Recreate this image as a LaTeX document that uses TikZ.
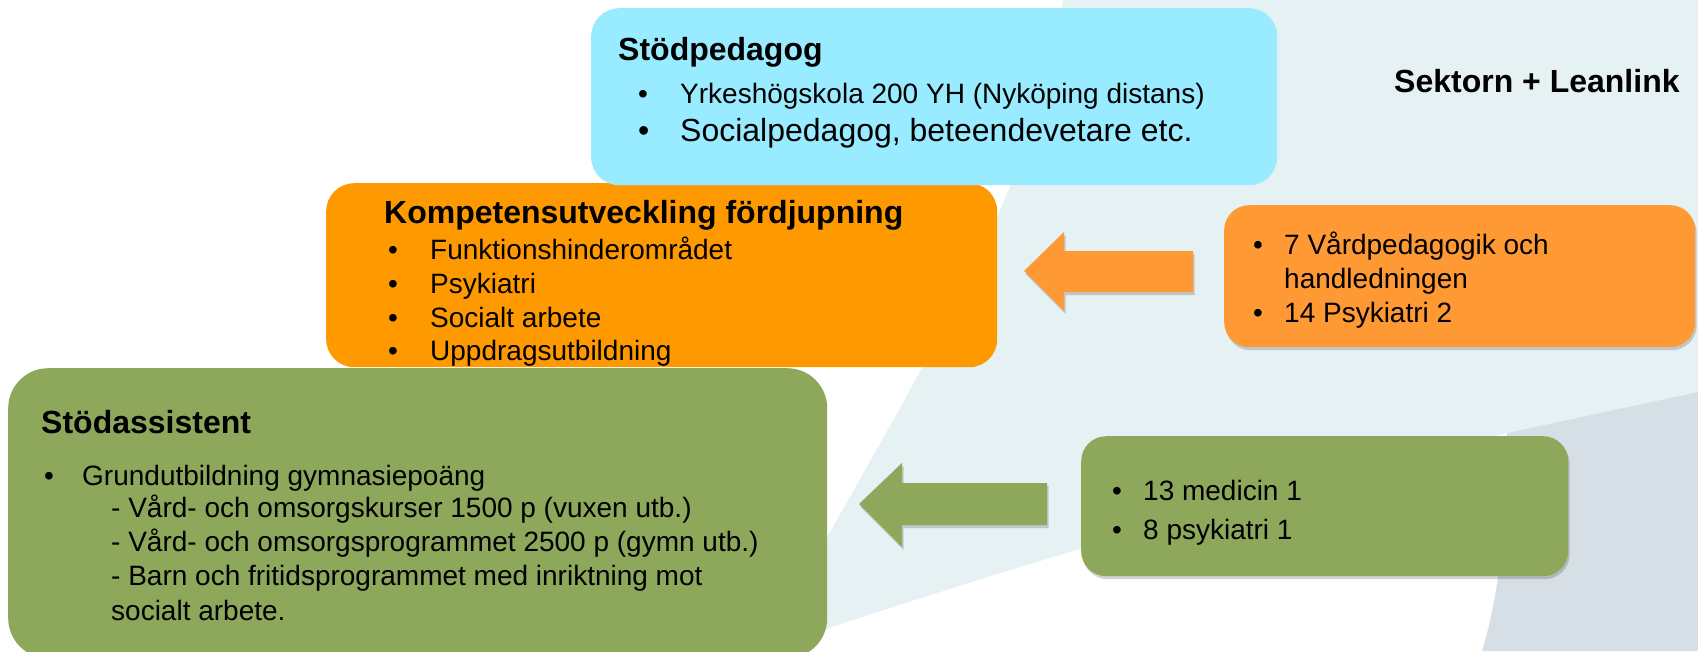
\documentclass[tikz,border=0pt]{standalone}
\usepackage{fontspec}
\setmainfont{Liberation Sans}
\usetikzlibrary{shadows}
\definecolor{bglight}{HTML}{E6F1F4}
\definecolor{bgdark}{HTML}{D6DFE6}
\definecolor{cyanbox}{HTML}{99EBFF}
\definecolor{orangebig}{HTML}{FF9900}
\definecolor{orangesmall}{HTML}{FF9933}
\definecolor{greenbox}{HTML}{8DA75B}
\begin{document}
\begin{tikzpicture}[x=1pt,y=-1pt,
  box/.style={rounded corners=28pt, inner sep=0pt, anchor=north west, draw=none},
  shad/.style={drop shadow={shadow xshift=1.5pt, shadow yshift=-3pt, opacity=0.22, fill=black!80}},
  txt/.style={anchor=mid west, inner sep=0pt, font=\fontsize{28}{34}\selectfont},
  txtl/.style={anchor=mid west, inner sep=0pt, font=\fontsize{32}{38}\selectfont},
  ttl/.style={anchor=mid west, inner sep=0pt, font=\fontsize{32}{38}\selectfont\bfseries},
]
\useasboundingbox (0,0) rectangle (1698,651);
\clip (0,0) rectangle (1698,651);
% background
\fill[white] (0,0) rectangle (1698,651);
\fill[bglight] (1063,0) .. controls (1040,200) and (870,450) .. (765,650)
  .. controls (950,585) and (1250,495) .. (1507,433) -- (1698,392) -- (1698,0) -- cycle;
\fill[bgdark] (1507,433) -- (1698,392) -- (1698,651) -- (1482,651)
  .. controls (1498,600) and (1508,520) .. (1507,433) -- cycle;

% boxes
\node[box, fill=greenbox, rounded corners=40pt, minimum width=819, minimum height=290] (sa) at (8,368) {};
\node[box, fill=orangebig, minimum width=671, minimum height=184] (ku) at (326,183) {};
\node[box, fill=cyanbox, minimum width=686, minimum height=177] (sp) at (591,8) {};
\node[box, fill=orangesmall, shad, rounded corners=25pt, minimum width=471, minimum height=142] (os) at (1224,205) {};
\node[box, fill=greenbox, shad, rounded corners=25pt, minimum width=487, minimum height=140] (gs) at (1081,436) {};

% block arrows
\fill[orangesmall, shad] (1193,251) -- (1064,251) -- (1064,232) -- (1024,271) -- (1064,311) -- (1064,292) -- (1193,292) -- cycle;
\fill[greenbox, shad] (1047,483) -- (902,483) -- (902,463) -- (859,504) -- (902,547) -- (902,525) -- (1047,525) -- cycle;

% Stödpedagog
\node[ttl] (spT) at (618,58) {Stödpedagog};
\node[txt] (spB1) at (638,101) {•};
\node[txt] (spL1) at (680,101) {Yrkeshögskola 200 YH (Nyköping distans)};
\node[txtl] (spB2) at (638,139) {•};
\node[txtl] (spL2) at (680,139) {Socialpedagog, beteendevetare etc.};

% Kompetensutveckling
\node[ttl] (kuT) at (384,221) {Kompetensutveckling fördjupning};
\node[txt] (kuB1) at (388,257) {•};
\node[txt] (kuL1) at (430,257) {Funktionshinderområdet};
\node[txt] (kuB2) at (388,291) {•};
\node[txt] (kuL2) at (430,291) {Psykiatri};
\node[txt] (kuB3) at (388,325) {•};
\node[txt] (kuL3) at (430,325) {Socialt arbete};
\node[txt] (kuB4) at (388,358) {•};
\node[txt] (kuL4) at (430,358) {Uppdragsutbildning};

% Stödassistent
\node[ttl] (saT) at (41,431) {Stödassistent};
\node[txt] (saB1) at (44,483) {•};
\node[txt] (saL1) at (82,483) {Grundutbildning gymnasiepoäng};
\node[txt] (saL2) at (111,515) {- Vård- och omsorgskurser 1500 p (vuxen utb.)};
\node[txt] (saL3) at (111,549) {- Vård- och omsorgsprogrammet 2500 p (gymn utb.)};
\node[txt] (saL4) at (111,583) {- Barn och fritidsprogrammet med inriktning mot};
\node[txt] (saL5) at (111,618) {socialt arbete.};

% orange small
\node[txt] (osB1) at (1253,252) {•};
\node[txt] (osL1) at (1284,252) {7 Vårdpedagogik och};
\node[txt] (osL2) at (1284,286) {handledningen};
\node[txt] (osB2) at (1253,320) {•};
\node[txt] (osL3) at (1284,320) {14 Psykiatri 2};

% green small
\node[txt] (gsB1) at (1112,498) {•};
\node[txt] (gsL1) at (1143,498) {13 medicin 1};
\node[txt] (gsB2) at (1112,537) {•};
\node[txt] (gsL2) at (1143,537) {8 psykiatri 1};

% title
\node[ttl] (sek) at (1394,90) {Sektorn + Leanlink};
\end{tikzpicture}
\end{document}
